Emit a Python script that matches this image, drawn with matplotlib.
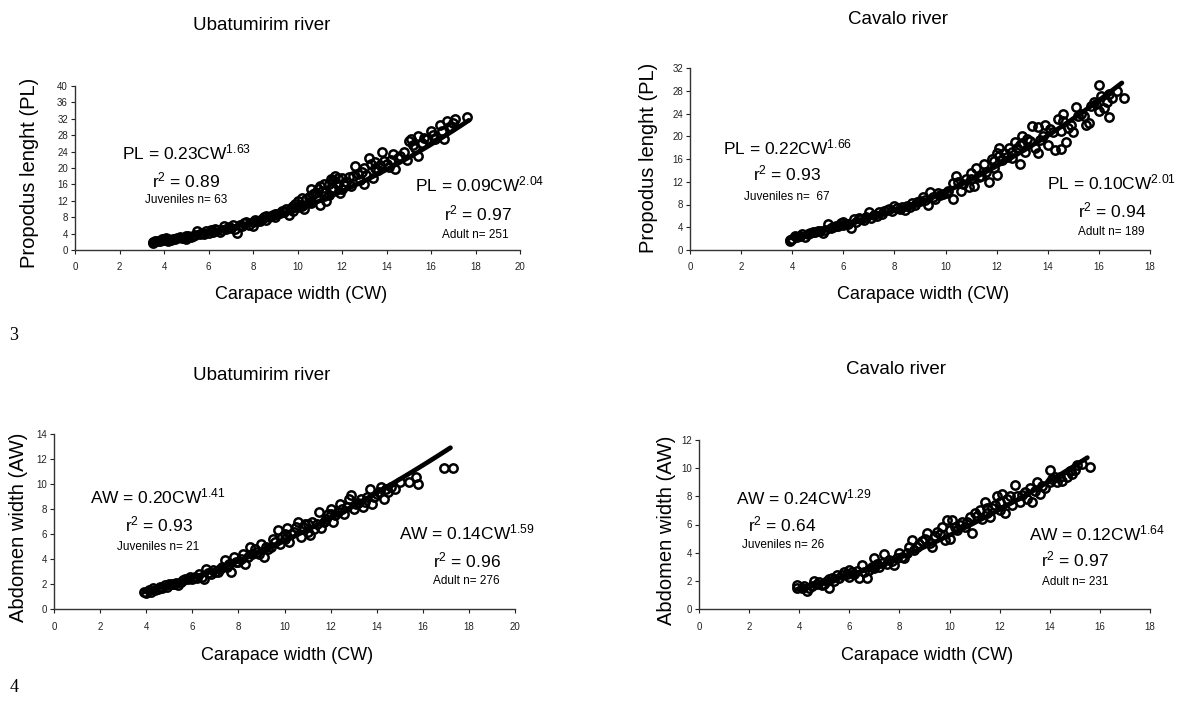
import matplotlib
matplotlib.use("Agg")
import matplotlib.pyplot as plt

plt.rcParams['font.family'] = ['Liberation Sans', 'DejaVu Sans']
plt.rcParams['mathtext.fontset'] = 'custom'
plt.rcParams['mathtext.rm'] = 'Liberation Sans'
plt.rcParams['mathtext.it'] = 'Liberation Sans'

W, H = 1181, 704

# ---- data ----
# top-left: Ubatumirim river, propodus length
ub_pl_x = [3.5, 3.5, 3.6, 3.8, 4.0, 4.0, 4.1, 4.2, 4.3, 4.5, 4.6, 4.8, 5.0, 5.0, 5.2, 5.4, 5.5, 5.6,
           5.8, 6.0, 6.1, 6.2, 6.4, 6.5, 6.7, 6.8, 7.0, 7.1, 7.2, 7.3, 7.4, 7.5, 7.6, 7.8, 8.0, 8.0,
           8.2, 8.4, 8.5, 8.6, 8.8, 9.0, 9.0, 9.2, 9.4, 9.5, 9.6, 9.8, 10.0, 10.0, 10.1, 10.3, 10.4,
           10.5, 10.6, 10.8, 10.9, 11.0, 11.0, 11.1, 11.2, 11.3, 11.4, 11.5, 11.6, 11.7, 11.8, 11.9,
           12.0, 12.2, 12.4, 12.5, 12.6, 12.8, 12.9, 13.0, 13.0, 13.2, 13.3, 13.4, 13.5, 13.6, 13.8,
           14.0, 14.2, 14.3, 14.4, 14.5, 14.8, 14.9, 15.0, 15.1, 15.2, 15.4, 15.4, 15.6, 15.8, 16.0,
           16.2, 16.4, 16.5, 16.6, 16.7, 16.9, 17.0, 17.1, 17.6,
           3.7, 3.9, 4.2, 4.4, 4.7, 4.9, 5.1, 5.3, 5.7, 5.9, 6.3, 6.6, 6.9, 7.7, 8.1, 8.3, 8.7, 8.9,
           9.1, 9.3, 9.7, 9.9, 10.2, 10.2, 10.5, 10.7, 10.9, 11.2, 11.4, 11.6, 11.8, 12.1, 12.3,
           12.7, 13.1, 13.5, 13.7, 13.9, 14.1, 14.6, 15.3, 15.7, 16.1, 16.8, 10.6, 11.5, 12.0, 9.8,
           9.4, 8.6]
ub_pl_y = [2.0, 1.8, 2.2, 2.3, 2.8, 2.4, 3.0, 2.2, 2.5, 2.6, 3.0, 3.0, 2.8, 3.3, 3.2, 3.6, 4.6, 3.8,
           4.0, 4.2, 5.0, 4.5, 4.8, 4.4, 5.8, 5.2, 5.4, 6.0, 5.2, 4.2, 6.2, 5.8, 6.6, 6.2, 6.8, 5.9,
           7.0, 7.6, 8.0, 7.2, 8.4, 8.0, 8.9, 9.0, 9.2, 10.0, 8.6, 9.6, 10.5, 12.0, 11.0, 10.0, 12.5,
           13.0, 11.5, 14.0, 13.0, 11.0, 15.5, 14.5, 16.0, 12.0, 13.5, 15.0, 17.0, 18.0, 16.0, 14.0,
           17.5, 16.5, 15.5, 18.0, 20.5, 17.0, 19.0, 20.0, 16.0, 22.5, 21.0, 17.5, 20.0, 19.5, 24.0,
           21.0, 22.0, 23.5, 19.8, 22.5, 24.0, 22.0, 26.5, 27.0, 25.5, 23.0, 27.8, 26.0, 27.0, 29.0,
           27.0, 30.5, 29.0, 27.0, 31.5, 30.0, 31.0, 32.0, 32.5,
           2.1, 2.6, 2.7, 2.8, 3.2, 2.9, 3.4, 3.5, 4.2, 4.6, 5.2, 5.0, 5.6, 6.8, 7.4, 7.0, 8.0, 8.6,
           8.8, 9.6, 10.2, 11.2, 12.6, 10.8, 11.8, 13.6, 15.0, 13.2, 16.0, 15.2, 17.6, 15.8, 17.8,
           18.6, 18.2, 21.4, 20.8, 21.6, 20.2, 23.0, 25.0, 27.4, 28.0, 30.0, 14.8, 17.2, 15.0, 10.8,
           9.6, 8.4]

# top-right: Cavalo river, propodus length
cv_pl_x = [3.9, 3.9, 4.0, 4.1, 4.3, 4.4, 4.5, 4.7, 4.9, 5.0, 5.2, 5.4, 5.5, 5.6, 5.8, 6.0, 6.0, 6.2,
           6.3, 6.4, 6.5, 6.6, 6.8, 6.9, 7.0, 7.1, 7.3, 7.5, 7.7, 7.9, 8.0, 8.2, 8.4, 8.6, 8.8, 9.0,
           9.1, 9.3, 9.4, 9.6, 9.8, 10.0, 10.3, 10.3, 10.4, 10.5, 10.6, 10.8, 10.9, 11.0, 11.1, 11.2,
           11.3, 11.5, 11.6, 11.7, 11.8, 11.9, 12.0, 12.0, 12.1, 12.2, 12.4, 12.5, 12.6, 12.7, 12.9,
           12.9, 13.0, 13.1, 13.2, 13.4, 13.5, 13.6, 13.6, 13.8, 13.9, 14.0, 14.2, 14.3, 14.4, 14.5,
           14.5, 14.6, 14.7, 14.9, 15.0, 15.1, 15.2, 15.5, 15.6, 15.7, 15.8, 16.0, 16.0, 16.1, 16.2,
           16.4, 16.4, 16.5, 17.0,
           4.2, 4.6, 4.8, 5.1, 5.3, 5.7, 5.9, 6.1, 6.7, 7.2, 7.4, 7.6, 7.8, 8.1, 8.3, 8.5, 8.7, 8.9,
           9.2, 9.5, 9.7, 9.9, 10.1, 10.7, 11.4, 11.9, 12.3, 12.6, 12.8, 13.3, 13.7, 14.1, 14.6,
           14.8, 15.3, 15.4, 15.9, 16.3, 16.7, 11.0, 12.1, 13.0]
cv_pl_y = [1.8, 1.5, 2.0, 2.5, 2.4, 2.8, 2.3, 3.0, 3.2, 3.3, 3.0, 4.5, 3.8, 4.0, 4.2, 5.0, 4.4, 4.6,
           3.8, 5.4, 5.0, 5.6, 5.2, 5.8, 6.6, 5.6, 6.0, 6.4, 7.0, 6.8, 7.8, 7.2, 7.0, 7.6, 8.0, 8.6,
           9.4, 8.0, 10.2, 9.0, 9.6, 10.0, 8.9, 11.8, 13.0, 12.0, 10.4, 12.4, 11.0, 13.5, 11.2, 14.4,
           12.8, 15.2, 13.8, 12.0, 16.0, 14.5, 17.0, 13.2, 18.0, 15.8, 16.4, 18.0, 17.2, 19.0, 15.2,
           18.5, 20.0, 17.2, 19.5, 21.8, 18.0, 17.0, 21.6, 20.0, 22.0, 18.5, 20.8, 17.6, 23.0, 21.0,
           17.7, 24.0, 19.0, 22.0, 20.8, 25.2, 23.5, 22.0, 22.3, 25.4, 26.0, 29.0, 24.5, 27.0, 25.0,
           23.3, 27.5, 26.8, 26.8,
           2.2, 2.9, 3.1, 3.4, 3.6, 4.3, 4.8, 4.6, 5.4, 6.1, 6.6, 6.8, 7.2, 7.4, 7.6, 7.8, 8.2, 8.4,
           8.8, 9.4, 10.0, 9.8, 10.4, 11.6, 13.0, 15.6, 17.0, 16.2, 18.0, 19.2, 19.4, 21.2, 22.6,
           21.4, 24.0, 23.6, 25.6, 26.0, 28.0, 12.4, 16.6, 18.8]

# bottom-left: Ubatumirim river, abdomen width
ub_aw_x = [3.9, 4.0, 4.1, 4.2, 4.3, 4.4, 4.6, 4.8, 5.0, 5.2, 5.4, 5.5, 5.7, 5.9, 6.0, 6.2, 6.4, 6.5,
           6.6, 6.8, 7.0, 7.2, 7.4, 7.5, 7.7, 7.8, 8.0, 8.2, 8.3, 8.5, 8.6, 8.8, 9.0, 9.1, 9.3, 9.5,
           9.7, 9.8, 10.0, 10.1, 10.2, 10.4, 10.6, 10.7, 10.8, 11.0, 11.1, 11.2, 11.4, 11.5, 11.6,
           11.8, 12.0, 12.1, 12.2, 12.4, 12.6, 12.8, 12.9, 13.0, 13.2, 13.4, 13.6, 13.7, 13.8, 14.0,
           14.2, 14.3, 14.5, 14.8, 15.0, 15.4, 15.7, 15.8, 16.9, 17.3,
           4.5, 4.7, 4.9, 5.1, 5.3, 5.6, 5.8, 6.1, 6.3, 6.7, 6.9, 7.1, 7.3, 7.6, 7.9, 8.1, 8.4, 8.7,
           8.9, 9.2, 9.4, 9.6, 9.9, 10.3, 10.5, 10.9, 11.3, 11.7, 11.9, 12.3, 12.5, 12.7, 13.1,
           13.3, 13.5, 13.9, 14.1, 14.4, 14.6, 10.0, 11.0, 12.0]
ub_aw_y = [1.4, 1.3, 1.5, 1.4, 1.7, 1.5, 1.8, 1.9, 2.0, 2.0, 1.9, 2.2, 2.4, 2.6, 2.4, 2.5, 2.6, 2.4,
           3.2, 2.8, 3.0, 3.2, 3.9, 3.4, 3.0, 4.2, 3.8, 4.4, 3.6, 5.0, 4.4, 4.6, 5.2, 4.2, 4.8, 5.6,
           6.3, 5.2, 5.6, 6.5, 5.4, 6.2, 7.0, 5.8, 6.6, 6.2, 5.9, 7.0, 6.8, 7.8, 6.5, 7.2, 8.0, 7.0,
           7.5, 8.4, 7.6, 8.8, 9.1, 8.0, 8.5, 8.2, 9.0, 9.6, 8.4, 9.2, 9.8, 8.8, 9.4, 9.6, 10.2, 10.2,
           10.6, 10.0, 11.25, 11.25,
           1.6, 1.7, 1.8, 2.0, 2.1, 2.3, 2.4, 2.6, 2.8, 2.9, 3.1, 3.0, 3.4, 3.6, 3.8, 4.0, 4.2, 4.8,
           4.4, 5.0, 5.0, 5.4, 5.8, 6.0, 6.6, 6.8, 6.4, 7.0, 7.6, 7.8, 8.0, 8.2, 8.4, 8.8, 8.6, 9.0,
           9.4, 9.6, 9.8, 6.0, 6.8, 7.6]

# bottom-right: Cavalo river, abdomen width
cv_aw_x = [3.9, 3.9, 4.1, 4.3, 4.5, 4.6, 4.7, 5.0, 5.2, 5.2, 5.4, 5.5, 5.6, 5.8, 6.0, 6.0, 6.2, 6.4,
           6.5, 6.6, 6.7, 6.8, 7.0, 7.0, 7.2, 7.4, 7.5, 7.7, 7.8, 8.0, 8.2, 8.4, 8.5, 8.6, 8.8, 9.0,
           9.1, 9.3, 9.5, 9.7, 9.8, 9.9, 10.0, 10.1, 10.3, 10.5, 10.6, 10.8, 10.9, 11.0, 11.2, 11.3,
           11.4, 11.5, 11.6, 11.8, 11.9, 12.0, 12.1, 12.2, 12.3, 12.5, 12.6, 12.8, 13.0, 13.2, 13.3,
           13.5, 13.6, 13.8, 14.0, 14.0, 14.2, 14.3, 14.5, 14.7, 14.9, 15.1, 15.6,
           4.2, 4.4, 4.8, 4.9, 5.1, 5.3, 5.7, 5.9, 6.1, 6.3, 6.9, 7.1, 7.3, 7.6, 7.9, 8.1, 8.3, 8.7,
           8.9, 9.2, 9.4, 9.6, 10.2, 10.4, 10.7, 11.1, 11.7, 12.4, 12.7, 12.9, 13.1, 13.4, 13.7,
           14.1, 14.4, 14.8, 15.0, 15.3, 11.5, 12.0, 10.0]
cv_aw_y = [1.7, 1.5, 1.5, 1.3, 1.6, 2.0, 1.8, 1.8, 2.1, 1.5, 2.0, 2.4, 2.2, 2.6, 2.8, 2.3, 2.5, 2.2,
           3.1, 2.6, 2.2, 2.8, 3.6, 2.9, 3.0, 3.9, 3.2, 3.4, 3.1, 4.0, 3.6, 4.4, 4.9, 4.2, 4.6, 5.0,
           5.4, 4.4, 5.5, 5.8, 4.9, 6.3, 5.0, 6.3, 5.6, 6.2, 5.8, 6.5, 5.4, 6.8, 7.0, 6.4, 7.6, 6.8,
           6.5, 7.4, 8.0, 7.0, 8.2, 6.8, 7.8, 7.4, 8.8, 7.6, 8.3, 8.6, 7.6, 9.0, 8.2, 8.6, 9.85, 9.0,
           9.4, 9.0, 9.1, 9.4, 9.6, 10.2, 10.05,
           1.6, 1.5, 1.9, 1.7, 2.0, 2.2, 2.4, 2.5, 2.6, 2.7, 3.0, 3.2, 3.3, 3.5, 3.6, 3.7, 4.0, 4.4,
           4.8, 4.7, 5.2, 5.3, 5.8, 6.0, 6.2, 6.6, 7.2, 8.0, 8.0, 8.1, 7.8, 8.4, 8.7, 9.2, 9.4, 9.8,
           9.9, 10.3, 7.2, 7.6, 5.6]

# power fits printed on the chart: (a, b, x_from, x_to) for juveniles and adults
ub_pl_fit = [(0.23, 1.63, 3.5, 9.86), (0.09, 2.04, 9.86, 17.7)]
cv_pl_fit = [(0.22, 1.66, 3.9, 9.5), (0.10, 2.01, 9.5, 16.9)]
ub_aw_fit = [(0.20, 1.41, 3.9, 7.25), (0.14, 1.59, 7.25, 17.2)]
cv_aw_fit = [(0.24, 1.29, 3.9, 7.24), (0.12, 1.64, 7.24, 15.5)]


def px(x, y):
    return x / W, 1 - y / H


def make_axes(fig, x0, x1, y0, y1):
    # pixel box -> axes
    return fig.add_axes([x0 / W, 1 - y1 / H, (x1 - x0) / W, (y1 - y0) / H])


def fit_curve(a, b, lo, hi, n=60):
    xs = [lo + (hi - lo) * i / (n - 1) for i in range(n)]
    return xs, [a * x ** b for x in xs]


def draw_panel(ax, xs, ys, fits, xmax, ymax, ystep):
    ax.plot(xs, ys, linestyle='none', marker='o', ms=6, mfc='none',
            mec='black', mew=1.8, clip_on=False, zorder=3)
    for a, b, lo, hi in fits:
        fx, fy = fit_curve(a, b, lo, hi)
        ax.plot(fx, fy, color='black', lw=3.4, solid_capstyle='round', zorder=4)
    ax.set_xlim(0, xmax)
    ax.set_ylim(0, ymax)
    ax.set_xticks(range(0, xmax + 1, 2))
    ax.set_yticks(range(0, ymax + 1, ystep))
    for s in ['top', 'right']:
        ax.spines[s].set_visible(False)
    for s in ['left', 'bottom']:
        ax.spines[s].set_color('#333333')
        ax.spines[s].set_linewidth(1.0)
    ax.tick_params(direction='out', length=3, width=0.8, labelsize=7,
                   colors='#222222', pad=2)
    ax.tick_params(axis='x', pad=6)
    ax.patch.set_visible(False)


def annot(ax, x, y, s, size):
    ax.text(x, y, s, ha='center', va='center', fontsize=size, clip_on=False)


fig = plt.figure(figsize=(W / 100, H / 100), dpi=100)

# top-left
ax1 = make_axes(fig, 75, 520, 86, 250)
draw_panel(ax1, ub_pl_x, ub_pl_y, ub_pl_fit, 20, 40, 4)
annot(ax1, 5.0, 23.7, r'PL = 0.23CW$^{\mathrm{1.63}}$', 12.5)
annot(ax1, 5.0, 17.0, r'r$^{\mathrm{2}}$ = 0.89', 12.5)
annot(ax1, 5.0, 12.2, 'Juveniles n= 63', 8.5)
annot(ax1, 18.2, 15.9, r'PL = 0.09CW$^{\mathrm{2.04}}$', 12.5)
annot(ax1, 18.1, 9.0, r'r$^{\mathrm{2}}$ = 0.97', 12.5)
annot(ax1, 18.0, 3.7, 'Adult n= 251', 8.5)

# top-right
ax2 = make_axes(fig, 690, 1150, 68, 250)
draw_panel(ax2, cv_pl_x, cv_pl_y, cv_pl_fit, 18, 32, 4)
annot(ax2, 3.8, 18.1, r'PL = 0.22CW$^{\mathrm{1.66}}$', 12.5)
annot(ax2, 3.8, 13.4, r'r$^{\mathrm{2}}$ = 0.93', 12.5)
annot(ax2, 3.8, 9.3, 'Juveniles n=  67', 8.5)
annot(ax2, 16.5, 11.8, r'PL = 0.10CW$^{\mathrm{2.01}}$', 12.5)
annot(ax2, 16.5, 7.0, r'r$^{\mathrm{2}}$ = 0.94', 12.5)
annot(ax2, 16.5, 3.2, 'Adult n= 189', 8.5)

# bottom-left
ax3 = make_axes(fig, 54, 515, 434, 609)
draw_panel(ax3, ub_aw_x, ub_aw_y, ub_aw_fit, 20, 14, 2)
annot(ax3, 4.5, 9.0, r'AW = 0.20CW$^{\mathrm{1.41}}$', 12.5)
annot(ax3, 4.55, 6.8, r'r$^{\mathrm{2}}$ = 0.93', 12.5)
annot(ax3, 4.5, 5.0, 'Juveniles n= 21', 8.5)
annot(ax3, 17.9, 6.1, r'AW = 0.14CW$^{\mathrm{1.59}}$', 12.5)
annot(ax3, 17.9, 3.9, r'r$^{\mathrm{2}}$ = 0.96', 12.5)
annot(ax3, 17.9, 2.2, 'Adult n= 276', 8.5)

# bottom-right
ax4 = make_axes(fig, 699, 1150, 440, 609)
draw_panel(ax4, cv_aw_x, cv_aw_y, cv_aw_fit, 18, 12, 2)
annot(ax4, 4.2, 7.95, r'AW = 0.24CW$^{\mathrm{1.29}}$', 12.5)
annot(ax4, 3.3, 6.0, r'r$^{\mathrm{2}}$ = 0.64', 12.5)
annot(ax4, 3.35, 4.55, 'Juveniles n= 26', 8.5)
annot(ax4, 15.9, 5.4, r'AW = 0.12CW$^{\mathrm{1.64}}$', 12.5)
annot(ax4, 15.0, 3.5, r'r$^{\mathrm{2}}$ = 0.97', 12.5)
annot(ax4, 15.0, 1.9, 'Adult n= 231', 8.5)

# titles, axis labels, panel numbers
for (x, y), s in [((262, 25), 'Ubatumirim river'), ((898, 20), 'Cavalo river'),
                  ((262, 375), 'Ubatumirim river'), ((896, 370), 'Cavalo river')]:
    fig.text(*px(x, y), s, ha='center', va='center', fontsize=13.5)

for (x, y) in [(301, 295), (923, 295), (287, 656), (927, 655)]:
    fig.text(*px(x, y), 'Carapace width (CW)', ha='center', va='center', fontsize=13)

for (x, y), s in [((30, 173), 'Propodus lenght (PL)'), ((649, 158), 'Propodus lenght (PL)'),
                  ((19, 527), 'Abdomen width (AW)'), ((666, 530), 'Abdomen width (AW)')]:
    fig.text(*px(x, y), s, ha='center', va='center', rotation=90, fontsize=14.5)

fig.text(*px(14, 335), '3', ha='center', va='center', fontsize=13, family='Liberation Serif')
fig.text(*px(14, 688), '4', ha='center', va='center', fontsize=13, family='Liberation Serif')

fig.savefig('out.png', dpi=100)
